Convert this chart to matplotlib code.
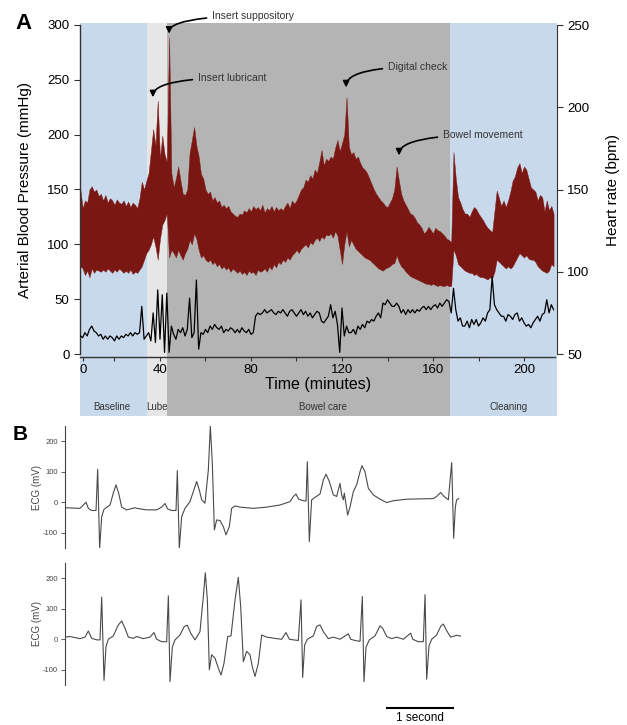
import numpy as np
import matplotlib
matplotlib.use("Agg")
import matplotlib.pyplot as plt

plt.rcParams["font.family"] = ["Liberation Sans", "DejaVu Sans"]
plt.rcParams["axes.unicode_minus"] = False

# ---- panel A data (time in minutes, 1-min samples starting at t=5) ----
bp_upper = [150, 133, 140, 138, 150, 153, 148, 150, 144, 146,
            140, 145, 138, 142, 140, 136, 141, 138, 137, 140,
            135, 139, 134, 138, 136, 133, 142, 157, 150, 158,
            165, 185, 205, 190, 231, 178, 199, 182, 175, 289,
            165, 152, 160, 171, 158, 146, 145, 150, 183, 195,
            207, 190, 180, 164, 160, 150, 146, 148, 140, 143,
            138, 140, 134, 136, 133, 135, 130, 128, 126, 125,
            128, 127, 131, 129, 133, 130, 135, 132, 134, 131,
            136, 129, 133, 131, 135, 130, 134, 131, 133, 131,
            135, 138, 133, 140, 137, 140, 145, 150, 152, 159,
            157, 163, 160, 168, 165, 175, 186, 172, 178, 176,
            180, 178, 188, 195, 185, 192, 200, 234, 189, 182,
            184, 178, 180, 174, 170, 168, 165, 160, 155, 150,
            146, 143, 140, 138, 135, 134, 138, 142, 150, 171,
            158, 146, 140, 136, 132, 128, 127, 124, 120, 118,
            115, 110, 112, 116, 113, 110, 115, 113, 112, 110,
            108, 105, 104, 102, 184, 160, 143, 138, 132, 128,
            128, 125, 130, 134, 132, 128, 125, 122, 118, 115,
            113, 111, 130, 149, 142, 135, 140, 134, 140, 148,
            158, 162, 170, 174, 165, 171, 168, 160, 152, 150,
            148, 140, 145, 143, 130, 140, 131, 135, 128]

bp_lower = [80, 78, 72, 76, 70, 78, 74, 77, 76, 75,
            77, 75, 78, 76, 74, 77, 75, 78, 76, 74,
            76, 74, 77, 73, 75, 74, 77, 80, 86, 92,
            95, 100, 107, 98, 86, 105, 118, 122, 128, 88,
            95, 92, 88, 95, 90, 86, 92, 96, 104, 100,
            110, 105, 95, 88, 90, 86, 84, 86, 82, 84,
            80, 82, 78, 80, 77, 79, 75, 78, 76, 74,
            76, 73, 75, 72, 76, 74, 75, 72, 77, 75,
            76, 78, 75, 80, 77, 82, 79, 84, 82, 86,
            84, 88, 86, 90, 92, 95, 92, 96, 98, 100,
            97, 102, 100, 104, 106, 103, 107, 105, 109, 108,
            110, 106, 112, 108, 95, 82, 100, 112, 98, 104,
            100, 96, 94, 92, 90, 88, 87, 86, 84, 82,
            80, 78, 77, 76, 78, 79, 80, 82, 83, 90,
            84, 80, 78, 75, 73, 71, 70, 69, 68, 67,
            66, 65, 64, 64, 63, 64, 63, 62, 63, 62,
            62, 63, 62, 62, 95, 90, 82, 80, 78, 76,
            75, 74, 74, 72, 73, 71, 70, 70, 69, 68,
            70, 69, 75, 86, 84, 82, 80, 78, 80, 78,
            80, 84, 88, 92, 90, 88, 90, 87, 86, 86,
            84, 80, 78, 76, 75, 74, 76, 82, 80]

hr_bpm = [61, 60, 63, 61, 65, 67, 64, 63, 61, 62,
          59, 61, 59, 61, 60, 58, 61, 59, 61, 60,
          62, 61, 63, 61, 63, 62, 63, 79, 59, 61,
          63, 58, 75, 57, 89, 59, 86, 51, 87, 51,
          67, 62, 59, 65, 63, 66, 61, 65, 84, 60,
          63, 95, 53, 63, 62, 65, 63, 67, 65, 68,
          66, 65, 67, 63, 65, 64, 66, 65, 63, 65,
          63, 66, 64, 63, 65, 62, 63, 73, 75, 74,
          75, 77, 75, 76, 77, 75, 74, 76, 75, 77,
          75, 73, 76, 77, 75, 73, 75, 77, 74, 76,
          73, 75, 72, 74, 76, 75, 70, 69, 71, 73,
          80, 72, 76, 68, 51, 78, 61, 67, 63, 63,
          65, 62, 67, 65, 68, 66, 70, 69, 71, 70,
          73, 75, 72, 81, 80, 83, 81, 79, 79, 81,
          79, 75, 77, 74, 77, 75, 77, 75, 77, 76,
          78, 79, 77, 79, 77, 79, 80, 78, 81, 79,
          81, 83, 82, 75, 90, 77, 70, 72, 67, 67,
          70, 66, 71, 68, 71, 67, 69, 72, 70, 75,
          77, 97, 80, 77, 75, 73, 73, 70, 74, 73,
          71, 74, 75, 70, 72, 69, 67, 68, 66, 69,
          71, 73, 70, 74, 75, 83, 75, 80, 77]

bp_t = np.arange(5, 5 + len(bp_upper))
hr_t = np.arange(5, 5 + len(hr_bpm))

phases = ["Baseline", "Lube", "Bowel care", "Cleaning"]
phase_edges = [4.8, 34.3, 43.1, 167.5, 214.5]
phase_colors = ["#c9d9ec", "#e6e6e6", "#b4b4b4", "#c9d9ec"]
phase_label_x = [19.0, 38.8, 111.8, 193.0]

events = ["Insert suppository", "Insert lubricant", "Digital check", "Bowel movement"]
event_xy = [(44, 292), (36.9, 234), (121.8, 243), (145.1, 181)]
event_text = [(62.9, 308), (56.7, 251.6), (140.2, 261.6), (164.4, 199.6)]

# ---- panel B data (seconds, mV) ----
ecg1_t = [0.0, 0.227, 0.278, 0.318, 0.354, 0.404, 0.470, 0.495, 0.525, 0.556,
          0.591, 0.682, 0.732, 0.773, 0.813, 0.859, 0.934, 1.061, 1.086, 1.237,
          1.389, 1.465, 1.515, 1.556, 1.616, 1.682, 1.702, 1.732, 1.768, 1.818,
          1.894, 1.944, 1.995, 2.035, 2.071, 2.121, 2.172, 2.202, 2.232, 2.263,
          2.298, 2.348, 2.399, 2.439, 2.490, 2.525, 2.576, 2.652, 2.854, 3.056,
          3.258, 3.409, 3.460, 3.500, 3.540, 3.611, 3.652, 3.672, 3.702, 3.737,
          3.788, 3.864, 3.914, 3.955, 4.005, 4.066, 4.116, 4.167, 4.192, 4.217,
          4.232, 4.247, 4.283, 4.318, 4.369, 4.419, 4.470, 4.500, 4.545, 4.596,
          4.672, 4.773, 4.874, 4.975, 5.177, 5.379, 5.581, 5.631, 5.692, 5.742,
          5.808, 5.859, 5.889, 5.914, 5.934, 5.965]
ecg1_v = [-18, -20, -9, 0, -20, -27, -27, 108, -151, -47,
          -23, -9, 30, 57, 30, -16, -25, -18, -20, -25,
          -25, -16, -4, -22, -27, -27, 104, -151, -47, -20,
          2, 35, 68, 40, 8, -3, 106, 250, 128, -91,
          -58, -60, -80, -107, -80, -20, -12, -16, -20, -16,
          -9, 2, 19, 27, 10, 5, 4, 133, -129, 8,
          16, 27, 73, 92, 68, 24, 19, 62, 24, 8,
          30, 8, -42, -16, 35, 57, 100, 120, 100, 46,
          24, 10, -1, 5, 10, 11, 12, 19, 32, 19,
          8, 130, -118, -16, 8, 12]

ecg2_t = [0.0, 0.076, 0.227, 0.303, 0.354, 0.404, 0.480, 0.530, 0.556, 0.591,
          0.621, 0.657, 0.732, 0.808, 0.859, 0.909, 0.960, 1.035, 1.086, 1.187,
          1.288, 1.348, 1.389, 1.465, 1.540, 1.566, 1.591, 1.626, 1.667, 1.742,
          1.808, 1.854, 1.904, 1.970, 2.045, 2.096, 2.126, 2.157, 2.187, 2.222,
          2.273, 2.323, 2.364, 2.409, 2.465, 2.515, 2.576, 2.626, 2.662, 2.702,
          2.753, 2.803, 2.838, 2.879, 2.929, 2.980, 3.056, 3.207, 3.283, 3.348,
          3.399, 3.460, 3.535, 3.576, 3.601, 3.631, 3.672, 3.763, 3.813, 3.864,
          3.914, 3.990, 4.066, 4.167, 4.293, 4.328, 4.394, 4.470, 4.505, 4.530,
          4.561, 4.611, 4.697, 4.773, 4.813, 4.874, 4.949, 5.025, 5.126, 5.237,
          5.268, 5.354, 5.429, 5.455, 5.480, 5.515, 5.556, 5.631, 5.692, 5.732,
          5.783, 5.843, 5.934, 5.985, 6.025]
ecg2_v = [7, 9, 2, 7, 27, 3, -2, -2, 138, -135,
          -24, 0, 11, 47, 60, 36, 7, 3, 9, 2,
          7, 22, 0, -8, -8, 142, -139, -26, -2, 14,
          42, 46, 20, -2, 25, 140, 218, 129, -100, -51,
          -62, -95, -117, -79, 9, 11, 129, 203, 107, -73,
          -40, -51, -90, -122, -79, 14, 7, 2, 0, 22,
          0, -2, -4, 129, -125, -19, 0, 11, 42, 47,
          25, 2, 7, 0, 18, 0, -4, -7, 140, -139,
          -26, -2, 11, 44, 36, 9, 2, 7, 0, 20,
          0, -8, -8, 146, -131, -22, 0, 14, 42, 50,
          28, 7, 13, 11, 7]

# ---------------------------------------------------------------
fig = plt.figure(figsize=(6.27, 7.25), dpi=100)
W, H = 627.0, 725.0

# background phase shading (extends below the time axis)
bg = fig.add_axes([80 / W, 309 / H, 477 / W, 393 / H])
bg.set_xlim(4.84, 214.5)
bg.set_ylim(0, 1)
bg.axis("off")
for i in range(len(phases)):
    bg.axvspan(phase_edges[i], phase_edges[i + 1], color=phase_colors[i], lw=0)
    bg.text(phase_label_x[i], 0.023, phases[i], ha="center", va="center",
            fontsize=7, color="#333333")

ax = fig.add_axes([80 / W, 368 / H, 477 / W, 334 / H])
ax.patch.set_visible(False)
ax.set_xlim(4.84, 214.5)
ax.set_ylim(-2.7, 301.7)
ax.fill_between(bp_t, bp_lower, bp_upper, color="#7b1712", lw=0.3, edgecolor="#7b1712")

ax.spines["top"].set_visible(False)
ax.spines["right"].set_visible(False)
ax.spines["left"].set_bounds(0, 300)
ax.spines["bottom"].set_bounds(4.84, 213.5)
for s in ("left", "bottom"):
    ax.spines[s].set_color("#333333")
    ax.spines[s].set_linewidth(1)
ax.set_yticks([0, 50, 100, 150, 200, 250, 300])
ax.set_xticks([6.2, 20, 40, 60, 80, 100, 120, 140, 160, 180, 200])
ax.set_xticklabels(["0", "", "40", "", "80", "", "120", "", "160", "", "200"])
ax.tick_params(axis="both", labelsize=9.5, length=4, width=0.8, color="#333333")
ax.tick_params(axis="x", length=3, pad=2)
ax.set_xlabel("Time (minutes)", fontsize=11.5, labelpad=1)
ax.set_ylabel("Arterial Blood Pressure (mmHg)", fontsize=11)
ax.yaxis.set_label_coords(-0.10, 0.5)

ax2 = ax.twinx()
ax2.set_ylim(48.2, 251.3)
ax2.plot(hr_t, hr_bpm, color="black", lw=0.9)
for s in ("top", "left", "bottom"):
    ax2.spines[s].set_visible(False)
ax2.spines["right"].set_bounds(50, 250)
ax2.spines["right"].set_color("#333333")
ax2.set_yticks([50, 100, 150, 200, 250])
ax2.tick_params(axis="y", labelsize=9.5, length=4, width=0.8, color="#333333")
ax2.set_ylabel("Heart rate (bpm)", fontsize=11)
ax2.yaxis.set_label_coords(1.103, 0.5)

for name, xy, xt in zip(events, event_xy, event_text):
    ax.annotate(name, xy=xy, xytext=xt, xycoords="data", textcoords="data",
                ha="left", va="center", fontsize=7.5, color="#333333",
                annotation_clip=False,
                arrowprops=dict(arrowstyle="-|>", color="black", lw=1.2,
                                mutation_scale=9, shrinkA=2, shrinkB=0,
                                connectionstyle="angle3,angleA=0,angleB=90"))

fig.text(15 / W, 1 - 29 / H, "A", fontsize=16, fontweight="bold", va="baseline")
fig.text(13 / W, 1 - 440 / H, "B", fontsize=15, fontweight="bold", va="baseline")

# ---- panel B ----
def ecg_axes(bottom_px, t, v):
    a = fig.add_axes([65 / W, bottom_px / H, 396 / W, 122 / H])
    a.plot(t, v, color="#4a4a4a", lw=0.8)
    a.set_xlim(0, 6.0)
    a.set_ylim(-150, 250)
    for s in ("top", "right", "bottom"):
        a.spines[s].set_visible(False)
    a.spines["left"].set_color("#444444")
    a.spines["left"].set_linewidth(0.8)
    a.set_xticks([])
    a.set_yticks([-100, 0, 100, 200])
    a.tick_params(axis="y", labelsize=5.5, length=3, width=0.6,
                  colors="#444444", pad=2)
    a.set_ylabel("ECG (mV)", fontsize=7, color="#444444")
    a.yaxis.set_label_coords(-0.058, 0.5)
    return a

ecg_top = ecg_axes(177, ecg1_t, ecg1_v)
ecg_bot = ecg_axes(40, ecg2_t, ecg2_v)

ecg_bot.plot([4.88, 5.88], [-225, -225], color="black", lw=1.5, clip_on=False)
ecg_bot.text(5.38, -238, "1 second", ha="center", va="top", fontsize=8.5)

fig.savefig("out.png", dpi=100)
